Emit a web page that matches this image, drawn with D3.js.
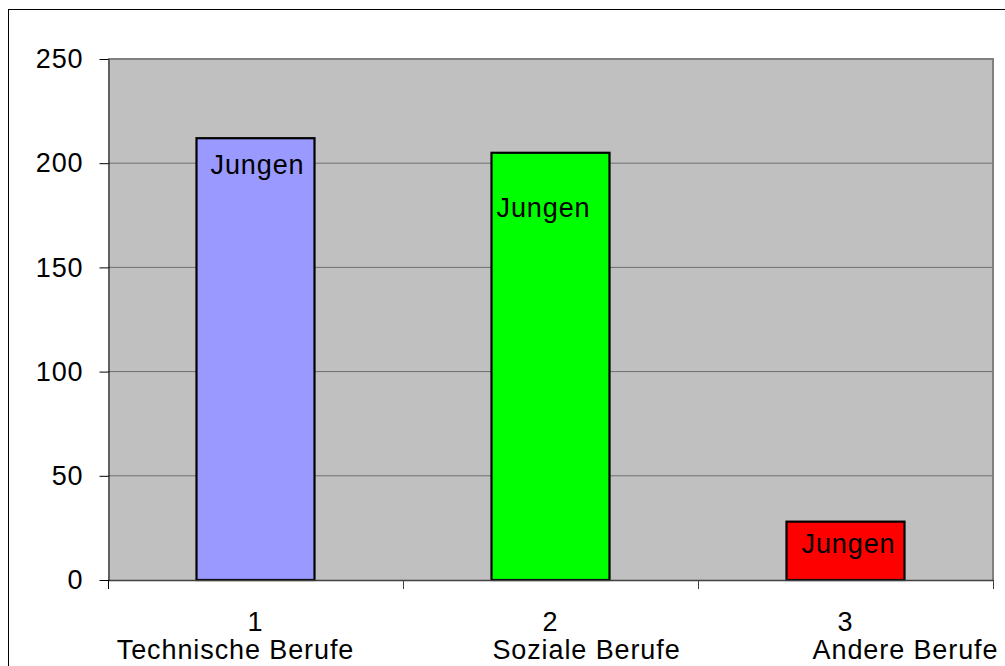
<!DOCTYPE html>
<html>
<head>
<meta charset="utf-8">
<script src="https://cdn.jsdelivr.net/npm/d3@7"></script>
<style>
  body { margin: 0; background: #fff; }
  svg { display: block; font-family: "Liberation Sans", Arial, sans-serif; }
  svg text { letter-spacing: 0.9px; }
</style>
</head>
<body>
<div id="chart"></div>
<script>
// chart data
var categoryNumbers = ["1", "2", "3"];
var categoryNames = ["Technische Berufe", "Soziale Berufe", "Andere Berufe"];
var values = [212, 205, 28];
var barLabels = ["Jungen", "Jungen", "Jungen"];
var barColors = ["#9999ff", "#00ff00", "#ff0000"];
var yTicks = [0, 50, 100, 150, 200, 250];

var width = 1005, height = 666;
var plot = {left: 108, top: 59, right: 993, bottom: 580};

// hand-placed label nudges, as in the original
var nameShift = [-20, 36, 60];
var labelNudge = [{dx: 2, dy: 36}, {dx: -7, dy: 64}, {dx: 3, dy: 31}];

var svg = d3.select("#chart")
    .append("svg")
    .attr("width", width)
    .attr("height", height);

// outer frame
svg.append("rect")
    .attr("x", 8.5).attr("y", 9.5)
    .attr("width", width + 20).attr("height", height + 20)
    .attr("fill", "#fff")
    .attr("stroke", "#000")
    .attr("stroke-width", 1);

var x = d3.scaleBand()
    .domain(d3.range(values.length))
    .range([plot.left, plot.right])
    .paddingInner(0.6)
    .paddingOuter(0.3);

var y = d3.scaleLinear()
    .domain([0, 250])
    .range([plot.bottom, plot.top]);

// plot background
svg.append("rect")
    .attr("x", plot.left).attr("y", plot.top)
    .attr("width", plot.right - plot.left)
    .attr("height", plot.bottom - plot.top)
    .attr("fill", "#c0c0c0");

// gridlines
svg.append("g")
    .selectAll("line")
    .data(yTicks.filter(d => d > 0))
    .enter().append("line")
    .attr("x1", plot.left).attr("x2", plot.right)
    .attr("y1", d => y(d)).attr("y2", d => y(d))
    .attr("stroke", "#6e6e6e")
    .attr("stroke-width", 1);

// plot border top + right
svg.append("path")
    .attr("d", "M" + plot.left + "," + plot.top + "H" + plot.right + "V" + plot.bottom)
    .attr("fill", "none")
    .attr("stroke", "#808080")
    .attr("stroke-width", 2);

// bars
svg.append("g")
    .selectAll("rect")
    .data(values)
    .enter().append("rect")
    .attr("x", (d, i) => x(i))
    .attr("y", d => y(d))
    .attr("width", x.bandwidth())
    .attr("height", d => y(0) - y(d))
    .attr("fill", (d, i) => barColors[i])
    .attr("stroke", "#000")
    .attr("stroke-width", 2.2);

// labels inside bars
svg.append("g")
    .selectAll("text")
    .data(values)
    .enter().append("text")
    .attr("x", (d, i) => x(i) + x.bandwidth() / 2 + labelNudge[i].dx)
    .attr("y", (d, i) => y(d) + labelNudge[i].dy)
    .attr("text-anchor", "middle")
    .style("font-size", "27px")
    .attr("fill", "#000")
    .text((d, i) => barLabels[i]);

// x axis line with category boundary ticks
var step = x.step();
var bounds = d3.range(values.length + 1).map(i => plot.left + i * step);
svg.append("line")
    .attr("x1", plot.left).attr("x2", plot.right)
    .attr("y1", plot.bottom + 0.5).attr("y2", plot.bottom + 0.5)
    .attr("stroke", "#404040")
    .attr("stroke-width", 1.5);
svg.append("g")
    .selectAll("line")
    .data(bounds)
    .enter().append("line")
    .attr("x1", d => Math.round(d) + 0.5).attr("x2", d => Math.round(d) + 0.5)
    .attr("y1", plot.bottom).attr("y2", plot.bottom + 9)
    .attr("stroke", (d, i) => i === 0 ? "#000" : "#404040")
    .attr("stroke-width", 1);

// y axis
var yAxis = svg.append("g")
    .attr("transform", "translate(" + (plot.left + 0.5) + ",0)")
    .call(d3.axisLeft(y).tickValues(yTicks).tickSize(9).tickPadding(16).tickSizeOuter(0));
yAxis.select(".domain").attr("stroke", "#000");
yAxis.selectAll(".tick line").attr("stroke", "#000");
yAxis.selectAll(".tick text")
    .style("font-size", "27px")
    .style("font-family", "'Liberation Sans', Arial, sans-serif")
    .attr("fill", "#000");

// category labels
var catLabels = svg.append("g")
    .selectAll("text")
    .data(categoryNumbers)
    .enter().append("text")
    .attr("text-anchor", "middle")
    .style("font-size", "27px")
    .attr("fill", "#000");
catLabels.append("tspan")
    .attr("x", (d, i) => x(i) + x.bandwidth() / 2)
    .attr("y", 631)
    .text(d => d);
catLabels.append("tspan")
    .attr("x", (d, i) => x(i) + x.bandwidth() / 2 + nameShift[i])
    .attr("y", 659)
    .text((d, i) => categoryNames[i]);
</script>
</body>
</html>
